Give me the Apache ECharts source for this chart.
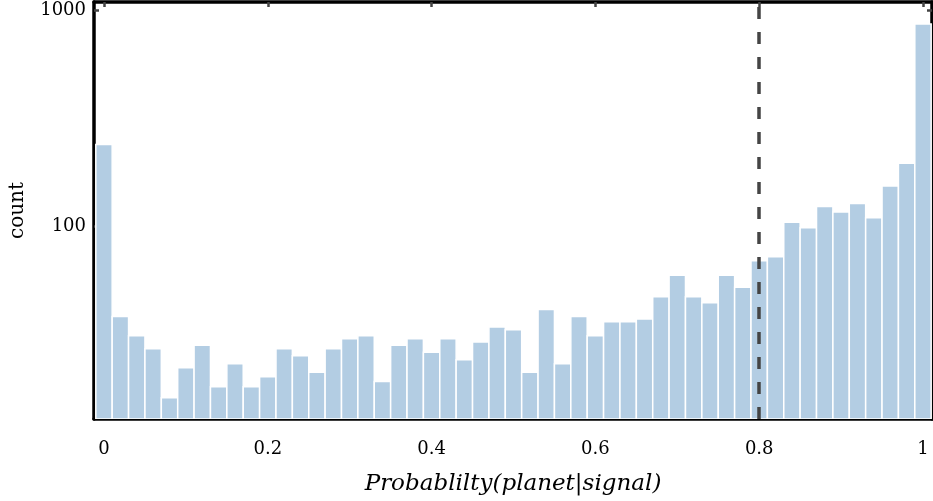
<!DOCTYPE html>
<html>
<head>
<meta charset="utf-8">
<script src="https://cdn.jsdelivr.net/npm/echarts@6/dist/echarts.min.js"></script>
<style>html,body{margin:0;padding:0;background:#fff}#c{width:933px;height:501px}</style>
</head>
<body>
<div id="c"></div>
<script>
// Histogram bins (centers) and counts
const binCenters = [0.00,0.02,0.04,0.06,0.08,0.10,0.12,0.14,0.16,0.18,
                    0.20,0.22,0.24,0.26,0.28,0.30,0.32,0.34,0.36,0.38,
                    0.40,0.42,0.44,0.46,0.48,0.50,0.52,0.54,0.56,0.58,
                    0.60,0.62,0.64,0.66,0.68,0.70,0.72,0.74,0.76,0.78,
                    0.80,0.82,0.84,0.86,0.88,0.90,0.92,0.94,0.96,0.98,1.00];
const counts = [238,38,31,27,16,22,28,18,23,18,
                20,27,25,21,27,30,31,19,28,30,
                26,30,24,29,34,33,21,41,23,38,
                31,36,36,37,47,59,47,44,59,52,
                69,72,104,98,123,116,127,109,153,195,860];
const binWidth = 0.02;
const xTicks = [0, 0.2, 0.4, 0.6, 0.8, 1];
const yTicks = [100, 1000];
const threshold = 0.8;
const xMin = -0.0122, xMax = 1.0110;
const yMin = 12.75, yMax = 1088;

const chart = echarts.init(document.getElementById('c'), null, {renderer: 'canvas'});
const FONT = "'DejaVu Serif', serif";
const tickStyle = {show: true, inside: true, length: 5, lineStyle: {color: '#444', width: 2.5}};
const lineStyle = {show: true, onZero: false, lineStyle: {color: '#000', width: 3.5}};

const data = binCenters.map((x, i) => [x, counts[i]]);

chart.setOption({
  animation: false,
  grid: {left: 93, right: 1, top: 2, bottom: 78, containLabel: false},
  xAxis: [{
    type: 'value', min: xMin, max: xMax, position: 'bottom',
    axisLine: lineStyle,
    axisTick: Object.assign({customValues: xTicks}, tickStyle),
    axisLabel: {customValues: xTicks, fontFamily: FONT, fontSize: 18, color: '#000', margin: 21,
      formatter: v => String(+v.toFixed(1))},
    splitLine: {show: false},
    name: 'Probablilty(planet|signal)', nameLocation: 'middle', nameGap: 54,
    nameTextStyle: {fontFamily: FONT, fontStyle: 'italic', fontSize: 23, color: '#000'}
  }, {
    type: 'value', min: xMin, max: xMax, position: 'top',
    axisLine: lineStyle,
    axisTick: Object.assign({customValues: xTicks}, tickStyle),
    axisLabel: {show: false}, splitLine: {show: false}
  }],
  yAxis: [{
    type: 'log', logBase: 10, min: yMin, max: yMax, position: 'left',
    axisLine: lineStyle,
    axisTick: Object.assign({customValues: yTicks}, tickStyle),
    axisLabel: {customValues: yTicks, fontFamily: FONT, fontSize: 18, color: '#000', margin: 8,
      formatter: v => String(Math.round(v))},
    minorTick: {show: false}, splitLine: {show: false},
    name: 'count', nameLocation: 'middle', nameGap: 66, nameRotate: 90,
    nameTextStyle: {fontFamily: FONT, fontSize: 20, color: '#000'}
  }, {
    type: 'log', logBase: 10, min: yMin, max: yMax, position: 'right',
    axisLine: lineStyle,
    axisTick: Object.assign({customValues: yTicks}, tickStyle),
    axisLabel: {show: false}, splitLine: {show: false}
  }],
  series: [{
    type: 'custom',
    xAxisIndex: 0, yAxisIndex: 0,
    data: data,
    clip: true,
    renderItem: function (params, api) {
      const x = api.value(0), v = api.value(1);
      const p0 = api.coord([x - binWidth / 2, v]);
      const p1 = api.coord([x + binWidth / 2, yMin]);
      const cs = params.coordSys;
      const shape = echarts.graphic.clipRectByRect(
        {x: p0[0], y: p0[1], width: p1[0] - p0[0], height: p1[1] - p0[1]},
        {x: cs.x, y: cs.y, width: cs.width, height: cs.height});
      if (!shape) return;
      return {type: 'rect', shape: shape,
        style: {fill: '#b3cde3', stroke: '#ffffff', lineWidth: 1.5}};
    },
    markLine: {
      silent: true, symbol: 'none', label: {show: false},
      lineStyle: {color: '#444', width: 3.5, type: [12, 13]},
      data: [{xAxis: threshold}]
    },
    z: 1
  }]
});
</script>
</body>
</html>
